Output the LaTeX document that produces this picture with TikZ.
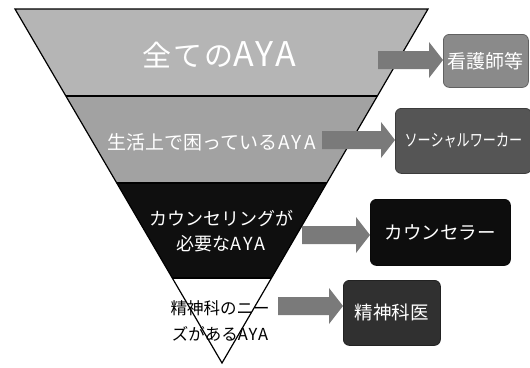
\documentclass[tikz,border=0pt]{standalone}
\usepackage{fontspec}
\usepackage{graphicx}
\setmainfont{Noto Sans CJK JP}
\usetikzlibrary{calc}
\definecolor{bandA}{HTML}{B5B5B5}
\definecolor{bandB}{HTML}{A2A2A2}
\definecolor{bandC}{HTML}{0F0F0F}
\definecolor{boxA}{HTML}{8A8A8A}
\definecolor{boxB}{HTML}{555555}
\definecolor{boxC}{HTML}{0D0D0D}
\definecolor{boxD}{HTML}{303030}
\definecolor{arrowc}{HTML}{7A7A7A}
\newcommand{\blockarrow}[3]{%
  \coordinate (ac) at (#1,#2);
  \coordinate (tip) at (#3.west |- ac);
  \fill[arrowfill] ($(ac)+(0,-9)$) -- ($(tip)+(-14,-9)$) -- ($(tip)+(-14,-18)$) -- (tip)
    -- ($(tip)+(-14,18)$) -- ($(tip)+(-14,9)$) -- ($(ac)+(0,9)$) -- cycle;}
\newcommand{\fsz}[1]{\fontsize{#1}{#1}\selectfont}
\newcommand{\aya}[1]{A\hspace{#1}Y\hspace{#1}A}
\begin{document}
\begin{tikzpicture}[x=1pt,y=-1pt,
  arrowfill/.style={fill=arrowc},
  edge/.style={line width=1.2pt, line join=miter},
  rbox/.style={rounded corners=6pt, draw=#1!70!black, line width=0.8pt, fill=#1,
    text=white, inner sep=0pt, anchor=north west},
  bandtext/.style={text=white, inner sep=0pt, align=center}]
\useasboundingbox (0,0) rectangle (530,367);
% funnel
\coordinate (TL) at (15,9);
\coordinate (TR) at (428,9);
\coordinate (AP) at (222,363);
\coordinate (L1) at ($(TL)!0.2458!(AP)$);
\coordinate (R1) at ($(TR)!0.2458!(AP)$);
\coordinate (L2) at ($(TL)!0.4915!(AP)$);
\coordinate (R2) at ($(TR)!0.4915!(AP)$);
\coordinate (L3) at ($(TL)!0.7599!(AP)$);
\coordinate (R3) at ($(TR)!0.7599!(AP)$);
\fill[bandA] (TL) -- (TR) -- (R1) -- (L1) -- cycle;
\fill[bandB] (L1) -- (R1) -- (R2) -- (L2) -- cycle;
\fill[bandC] (L2) -- (R2) -- (R3) -- (L3) -- cycle;
\fill[white] (L3) -- (R3) -- (AP) -- cycle;
\draw[edge] (TL) -- (TR) -- (AP) -- cycle;
\draw[edge] (L1) -- (R1);
\draw[edge] (L2) -- (R2);
\draw[edge] (L3) -- (R3);
% band texts
\node[bandtext, font=\fsz{29}] (t1) at (219,55) {全\hspace{.08em}て\hspace{.08em}の{\fontsize{34}{34}\selectfont\aya{.04em}}};
\node[bandtext, font=\fsz{19}] (t2) at (211.5,142) {生活上で困っている\hspace{.05em}\aya{.12em}};
\node[bandtext, font=\fontsize{18}{25}\selectfont] (t3) at (221,231) {カウンセリングが\\必要な\aya{.1em}};
\node[bandtext, text=black, font=\fontsize{16.5}{26}\selectfont] (t4) at (220,321) {精神科のニー\\ズがある\aya{.05em}};
% boxes
\node[rbox=boxA, minimum width=85pt, minimum height=53pt, font=\fsz{19}] (b1) at (443,34) {看護師等};
\node[rbox=boxB, minimum width=136pt, minimum height=65pt, font=\fsz{17}] (b2) at (395,108) {\scalebox{0.77}[1]{ソーシャルワーカー}};
\node[rbox=boxC, minimum width=140pt, minimum height=66pt, font=\fsz{18.5}] (b3) at (370,199) {カウンセラー};
\node[rbox=boxD, minimum width=97pt, minimum height=65pt, font=\fsz{18.5}] (b4) at (343,280) {精神科医};
% arrows
\blockarrow{378}{60}{b1}
\blockarrow{322}{140}{b2}
\blockarrow{302}{235}{b3}
\blockarrow{278}{306}{b4}
\end{tikzpicture}
\end{document}
